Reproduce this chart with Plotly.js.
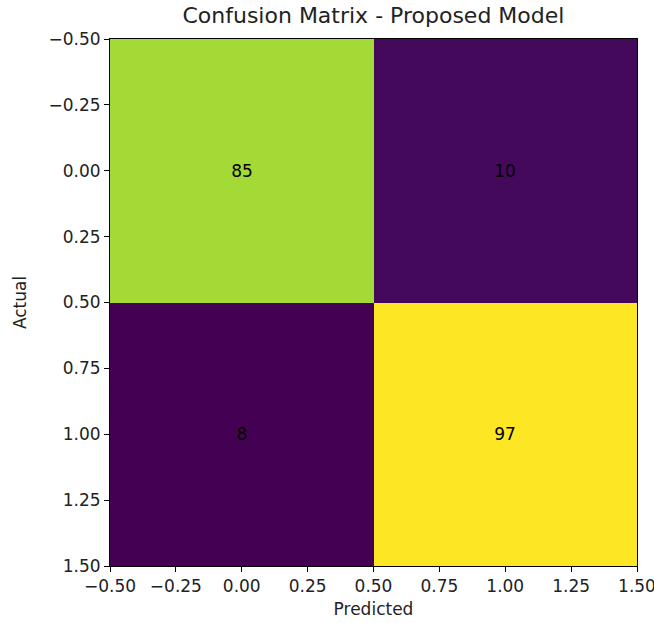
<!DOCTYPE html>
<html>
<head>
<meta charset="utf-8">
<script src="https://cdn.plot.ly/plotly-3.0.1.min.js"></script>
<style>html,body{margin:0;padding:0;background:#fff;}#chart{width:654px;height:623px;}</style>
</head>
<body>
<div id="chart"></div>
<script>
const predicted = [0, 1];
const actual = [0, 1];
const counts = [[85, 10], [8, 97]];
const tickVals = [-0.5, -0.25, 0, 0.25, 0.5, 0.75, 1, 1.25, 1.5];
const font = "DejaVu Sans, sans-serif";

const trace = {
  type: 'heatmap',
  x: predicted,
  y: actual,
  z: counts,
  colorscale: 'Viridis',
  zmin: 8,
  zmax: 97,
  showscale: false,
  texttemplate: '%{z}',
  textfont: {family: font, size: 17, color: '#000'},
  hoverinfo: 'x+y+z',
  xgap: 0, ygap: 0
};

const axisCommon = {
  showgrid: false,
  zeroline: false,
  showline: true,
  mirror: true,
  linecolor: '#000',
  linewidth: 1,
  ticks: 'outside',
  ticklen: 5,
  tickwidth: 1,
  tickcolor: '#000',
  tickmode: 'array',
  tickvals: tickVals,
  ticktext: tickVals.map(v => (v < 0 ? '\u2212' : '') + Math.abs(v).toFixed(2)),
  tickfont: {family: font, size: 17, color: '#222'},
  ticklabeloverflow: 'allow'
};

const layout = {
  width: 654,
  height: 623,
  margin: {l: 110, r: 17, t: 39, b: 57},
  paper_bgcolor: '#fff',
  plot_bgcolor: '#fff',
  title: {text: 'Confusion Matrix - Proposed Model', font: {family: font, size: 22, color: '#222'},
          x: 0.571, xanchor: 'center', y: 0.988, yanchor: 'top'},
  xaxis: Object.assign({}, axisCommon, {
    range: [-0.5, 1.5],
    title: {text: 'Predicted', font: {family: font, size: 17, color: '#222'}, standoff: 7}
  }),
  yaxis: Object.assign({}, axisCommon, {
    range: [1.5, -0.5],
    title: {text: 'Actual', font: {family: font, size: 17, color: '#222'}, standoff: 17}
  }),
  showlegend: false
};

Plotly.newPlot('chart', [trace], layout, {displayModeBar: false, staticPlot: true});
</script>
</body>
</html>
